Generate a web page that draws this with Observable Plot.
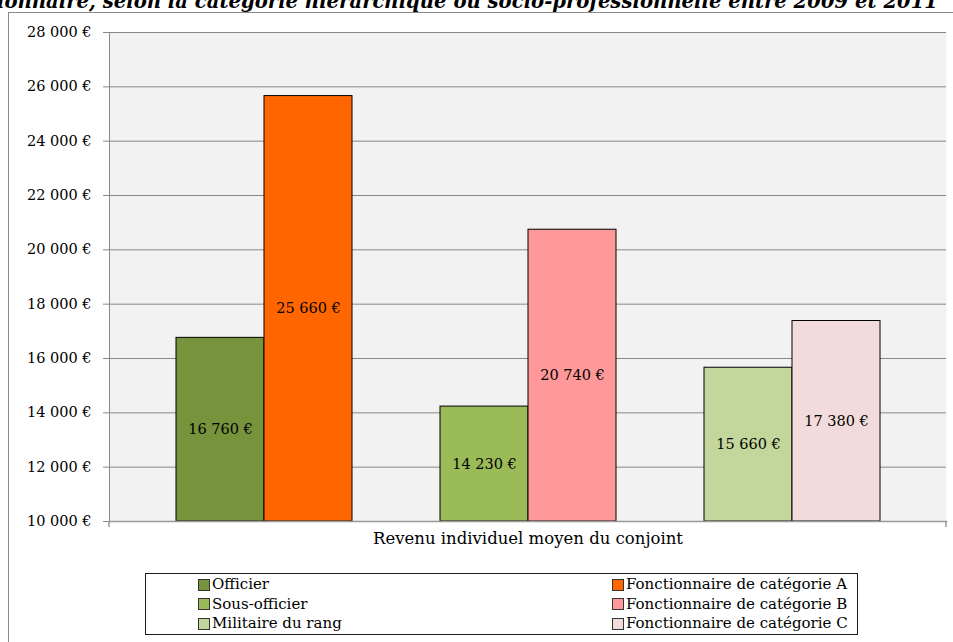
<!DOCTYPE html>
<html>
<head>
<meta charset="utf-8">
<script src="https://cdn.jsdelivr.net/npm/d3@7"></script>
<script src="https://cdn.jsdelivr.net/npm/@observablehq/plot@0.6"></script>
<style>
  html, body { margin: 0; padding: 0; background: #fff; }
  body { width: 953px; height: 642px; overflow: hidden; position: relative; font-family: "DejaVu Serif", serif; }
  #frame { position: absolute; left: 8px; top: 12px; width: 1200px; height: 900px; border-left: 1px solid #8c8c8c; border-top: 1px solid #8c8c8c; }
  #chart { position: absolute; left: 0; top: 0; }
  #title { position: absolute; left: 0; top: 0; }
  #legend { position: absolute; left: 145px; top: 573px; width: 713px; height: 62px; box-sizing: border-box; border: 1.5px solid #1a1a1a; background: #fff; }
  .item { position: absolute; display: flex; align-items: center; font-size: 15px; line-height: 19px; color: #000; white-space: nowrap; }
  .sw { width: 12px; height: 12px; box-sizing: border-box; border: 1px solid #333; margin-right: 2px; }
</style>
</head>
<body>
<div id="frame"></div>
<div id="chart"></div>
<svg id="title" width="953" height="12"></svg>
<div id="legend"></div>
<script>
const titleText = "ionnaire, selon la catégorie hiérarchique ou socio-professionnelle entre 2009 et 2011";
const categoryLabel = "Revenu individuel moyen du conjoint";

const militaryGroups = ["Officier", "Sous-officier", "Militaire du rang"];
const militaryValues = [16760, 14230, 15660];
const militaryColors = ["#77933c", "#9bbb59", "#c3d69b"];

const civilGroups = ["Fonctionnaire de catégorie A", "Fonctionnaire de catégorie B", "Fonctionnaire de catégorie C"];
const civilValues = [25660, 20740, 17380];
const civilColors = ["#ff6600", "#ff9999", "#f2dcdb"];

const yTicks = [10000, 12000, 14000, 16000, 18000, 20000, 22000, 24000, 26000, 28000];

const FONT = "'DejaVu Serif', serif";
const fmt = v => d3.format(",")(v).replace(/,/g, "\u00a0") + "\u00a0€";

// rows and slot domain (an empty slot separates each pair, as in the original)
const rows = [];
const domain = [];
militaryGroups.forEach((g, i) => {
  rows.push({name: militaryGroups[i], value: militaryValues[i], color: militaryColors[i]});
  rows.push({name: civilGroups[i], value: civilValues[i], color: civilColors[i]});
  domain.push(militaryGroups[i], civilGroups[i]);
  if (i < militaryGroups.length - 1) domain.push("gap" + i);
});

const plot = Plot.plot({
  width: 953,
  height: 560,
  marginLeft: 109,
  marginRight: 7,
  marginTop: 32,
  marginBottom: 39,
  style: {fontFamily: FONT, fontSize: "14px", background: "transparent", color: "#000"},
  x: {type: "band", domain, paddingInner: 0, paddingOuter: 0.75, axis: null},
  y: {domain: [yTicks[0], yTicks[yTicks.length - 1]], axis: null},
  marks: [
    Plot.frame({fill: "#f2f2f2", stroke: null}),
    Plot.gridY(yTicks, {stroke: "#888", strokeOpacity: 1, strokeWidth: 1}),
    Plot.axisY(yTicks, {tickFormat: fmt, tickSize: 6, tickPadding: 12, stroke: "#888", fill: "#000", fontSize: 14.5, label: null}),
    Plot.frame({anchor: "left", stroke: "#888"}),
    Plot.barY(rows, {x: "name", y1: () => yTicks[0], y2: "value", fill: "color", stroke: "#000", strokeWidth: 1}),
    Plot.frame({anchor: "bottom", stroke: "#999", strokeWidth: 1.5}),
    Plot.text(rows, {x: "name", y: d => (yTicks[0] + d.value) / 2, text: d => fmt(d.value), fill: "#000", fontSize: 14.5}),
    Plot.text([categoryLabel], {frameAnchor: "bottom", dy: 22, fill: "#000", fontSize: 16.5})
  ]
});
document.getElementById("chart").appendChild(plot);

// small category-boundary ticks at both ends of the x axis
const xr = plot.scale("x").range;
const yb = plot.scale("y").apply(yTicks[0]);
d3.select(plot).selectAll("line.edge").data(xr).join("line")
  .attr("x1", d => d).attr("x2", d => d)
  .attr("y1", yb).attr("y2", yb + 6)
  .attr("stroke", "#999").attr("stroke-width", 1.5);

// title (cut by the top of the picture, as in the reference)
d3.select("#title").append("text")
  .attr("x", -3).attr("y", 7.5)
  .attr("textLength", 941).attr("lengthAdjust", "spacingAndGlyphs")
  .attr("font-family", FONT)
  .attr("font-weight", "bold").attr("font-style", "italic")
  .attr("font-size", 21)
  .text(titleText);

// legend
const legend = document.getElementById("legend");
const colX = [52, 466];
const rowY = [1, 20.5, 40];
const cols = [
  militaryGroups.map((g, i) => ({name: g, color: militaryColors[i]})),
  civilGroups.map((g, i) => ({name: g, color: civilColors[i]}))
];
cols.forEach((col, c) => col.forEach((it, r) => {
  const div = document.createElement("div");
  div.className = "item";
  div.style.left = colX[c] + "px";
  div.style.top = rowY[r] + "px";
  const sw = document.createElement("span");
  sw.className = "sw";
  sw.style.background = it.color;
  div.appendChild(sw);
  div.appendChild(document.createTextNode(it.name));
  legend.appendChild(div);
}));
</script>
</body>
</html>
